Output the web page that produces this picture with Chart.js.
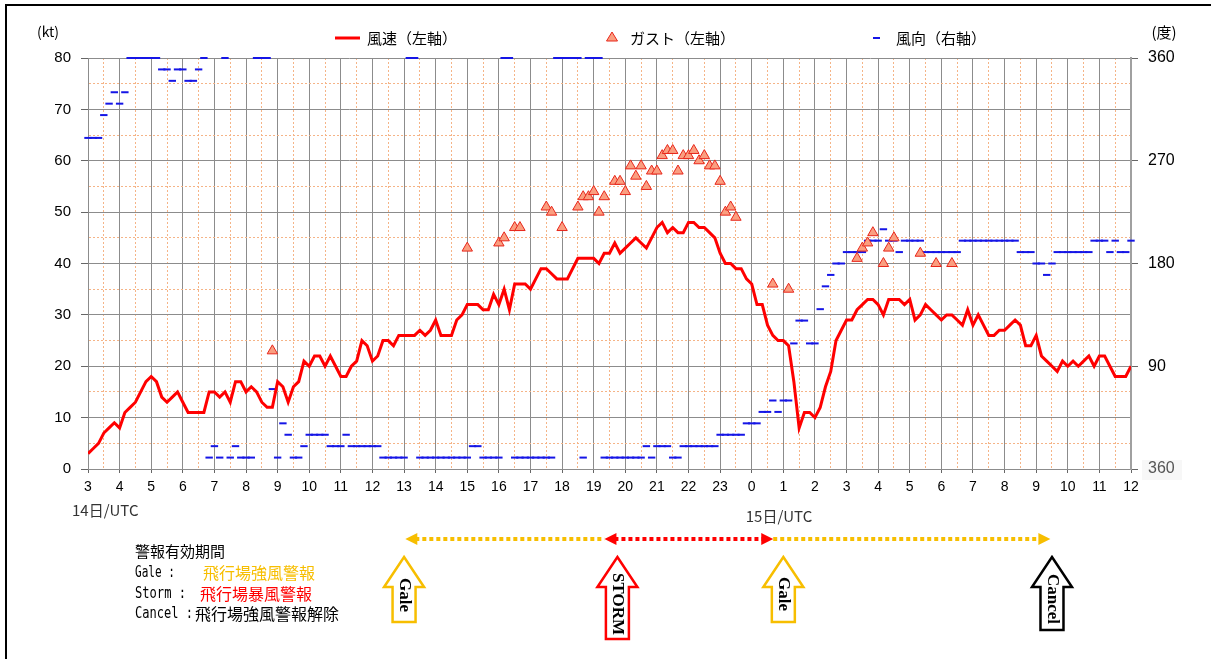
<!DOCTYPE html>
<html><head><meta charset="utf-8">
<script src="https://cdn.jsdelivr.net/npm/chart.js@4/dist/chart.umd.min.js"></script>
<style>html,body{margin:0;padding:0;background:#fff;}#wrap{width:1211px;height:659px;position:relative;}</style>
</head><body><div id="wrap"><canvas id="c" width="1211" height="659"></canvas></div>
<script>
const N = null;
// hour tick labels (14日03UTC .. 15日12UTC)
const xTickLabels = ['3','4','5','6','7','8','9','10','11','12','13','14','15','16','17','18','19','20','21','22','23','0','1','2','3','4','5','6','7','8','9','10','11','12'];
const yTickValues = [0,5,10,15,20,25,30,35,40,45,50,55,60,65,70,75,80];
const y2TickValues = [0,90,180,270,360];
const y2TickLabels = ['360','90','180','270','360'];

// 10-minute wind speed (kt), 14日03:00 .. 15日12:00
const speed = [
 3,4,5,7,8,9,        8,11,12,13,15,17,   18,17,14,13,14,15,   13,11,11,11,11,15,
 15,14,15,13,17,17,  15,16,15,13,12,12,  17,16,13,16,17,21,   20,22,22,20,22,20,
 18,18,20,21,25,24,  21,22,25,25,24,26,  26,26,26,27,26,27,   29,26,26,26,29,30,
 32,32,32,31,31,34,  32,35,31,36,36,36,  35,37,39,39,38,37,   37,37,39,41,41,41,
 41,40,42,42,44,42,  43,44,45,44,43,45,  47,48,46,47,46,46,   48,48,47,47,46,45,
 42,40,40,39,39,37,  36,32,32,28,26,25,  25,24,17,8,11,11,    10,12,16,19,25,27,
 29,29,31,32,33,33,  32,30,33,33,33,32,  33,29,30,32,31,30,   29,30,30,29,28,31,
 28,30,28,26,26,27,  27,28,29,28,24,24,  26,22,21,20,19,21,   20,21,20,21,22,20,
 22,22,20,18,18,18,  20
];
// gusts (kt), same 10-minute slots
const gust = [
 N,N,N,N,N,N, N,N,N,N,N,N, N,N,N,N,N,N, N,N,N,N,N,N,
 N,N,N,N,N,N, N,N,N,N,N,23, N,N,N,N,N,N, N,N,N,N,N,N,
 N,N,N,N,N,N, N,N,N,N,N,N, N,N,N,N,N,N, N,N,N,N,N,N,
 43,N,N,N,N,N, 44,45,N,47,47,N, N,N,N,51,50,N, 47,N,N,51,53,53,
 54,50,53,N,56,56, 54,59,57,59,55,58, 58,61,62,62,58,61, 61,62,60,61,59,59,
 56,50,51,49,N,N, N,N,N,N,36,N, N,35,N,N,N,N, N,N,N,N,N,N,
 N,N,41,43,44,46, N,40,43,45,N,N, N,N,42,N,N,40, N,N,40,N,N,N,
 N,N,N,N,N,N, N,N,N,N,N,N, N,N,N,N,N,N, N,N,N,N,N,N,
 N,N,N,N,N,N, N
];
// wind direction (deg), same 10-minute slots
const direction = [
 290,290,290,310,320,330, 320,330,360,360,360,360, 360,360,350,350,340,350, 350,340,340,350,360,10,
 20,10,360,10,20,10,      10,10,360,360,360,70,    10,40,30,10,10,20,       30,30,30,30,20,20,
 20,30,20,20,20,20,       20,20,10,10,10,10,       10,360,360,10,10,10,     10,10,10,10,10,10,
 10,20,20,10,10,10,       10,360,360,10,10,10,     10,10,10,10,10,360,      360,360,360,360,10,360,
 360,360,10,10,10,10,     10,10,10,10,20,10,       20,20,20,10,10,20,       20,20,20,20,20,20,
 30,30,30,30,30,40,       40,40,50,50,60,50,       60,60,110,130,130,110,   110,140,160,170,180,180,
 190,190,190,190,200,200, 200,210,200,200,190,200, 200,200,200,190,190,190, 190,190,190,190,200,200,
 200,200,200,200,200,200, 200,200,200,190,190,190, 180,180,170,180,190,190, 190,190,190,190,190,200,
 200,200,190,200,190,190, 200
];
// warning periods (hours after 14日03UTC)
const warnArrowHours = [10.0, 16.75, 22.0, 30.5];
const warnArrowNames = ['Gale','STORM','Gale','Cancel'];
const warnArrowColors = ['#F7BE00','#FF0000','#F7BE00','#000000'];
const warnPeriodFrom = [10.04, 16.34, 21.68];
const warnPeriodTo = [16.34, 21.68, 30.45];
const warnPeriodColors = ['#F7BE00','#FF0000','#F7BE00'];

const STEP = 1/6;
const toXY = arr => arr.map((v,i)=> v==null?null:{x:i*STEP,y:v}).filter(p=>p);

const YELLOW='#F7BE00';
const deco = {
  id:'deco',
  beforeDraw(chart){
    const c = chart.ctx;
    c.save(); c.fillStyle='#f7f7f7'; c.fillRect(1142,460,40,20); c.restore();
  },
  afterDraw(chart){
    const c = chart.ctx, xs = chart.scales.x;
    c.save();
    // frame
    c.strokeStyle='#000'; c.lineWidth=2;
    c.beginPath(); c.moveTo(6,659); c.lineTo(6,5); c.lineTo(1211,5); c.stroke();
    // units
    c.fillStyle='#000'; c.textBaseline='middle'; c.textAlign='center';
    c.font='14px "Noto Sans CJK JP"';
    c.fillText('(kt)',48,32);
    c.font='15px "Noto Sans CJK JP"';
    c.fillText('(度)',1164,32);
    // legend
    c.textAlign='left';
    c.font='15px "Noto Sans CJK JP"';
    c.strokeStyle='#FF0000'; c.lineWidth=3;
    c.beginPath(); c.moveTo(335,38); c.lineTo(360,38); c.stroke();
    c.fillStyle='#000'; c.fillText('風速（左軸）',367,38);
    c.beginPath(); c.moveTo(612,32); c.lineTo(617.5,41); c.lineTo(606.5,41); c.closePath();
    c.fillStyle='#FA9E80'; c.fill(); c.strokeStyle='#E8261A'; c.lineWidth=1; c.stroke();
    c.fillStyle='#000'; c.fillText('ガスト（左軸）',630,38);
    c.strokeStyle='#1515E6'; c.lineWidth=2;
    c.beginPath(); c.moveTo(873,38); c.lineTo(880,38); c.stroke();
    c.fillText('風向（右軸）',896,38);
    // day labels
    c.font='15px "Noto Sans CJK JP"'; c.fillStyle='#333';
    c.fillText('14日/UTC', xs.getPixelForValue(0)-16, 510);
    c.fillText('15日/UTC', xs.getPixelForValue(21)-6, 516);
    // explanation
    c.fillStyle='#000';
    c.font='15px "Noto Sans CJK JP"';
    c.fillText('警報有効期間',135,551);
    c.font='16px "DejaVu Sans Mono"';
    c.fillText('Gale :',135,573,40);
    c.fillText('Storm :',135,594,51);
    c.fillText('Cancel :',135,614,58);
    c.font='16px "Noto Sans CJK JP"';
    c.fillStyle=YELLOW; c.fillText('飛行場強風警報',203,573,115);
    c.fillStyle='#FF0000'; c.fillText('飛行場暴風警報',200,594,118);
    c.fillStyle='#000'; c.fillText('飛行場強風警報解除',195,614,157);
    // period dotted arrows
    const py=539;
    for(let i=0;i<warnPeriodFrom.length;i++){
      const x1=xs.getPixelForValue(warnPeriodFrom[i]), x2=xs.getPixelForValue(warnPeriodTo[i]);
      const col=warnPeriodColors[i];
      const headL = (i<=1), headR = (i>=1);
      c.strokeStyle=col; c.fillStyle=col; c.lineWidth=4; c.setLineDash([4,3]);
      c.beginPath(); c.moveTo(x1+(headL?10:0),py); c.lineTo(x2-(headR?10:0),py); c.stroke();
      c.setLineDash([]);
      if(headL){ c.beginPath(); c.moveTo(x1,py); c.lineTo(x1+12,py-6); c.lineTo(x1+12,py+6); c.closePath(); c.fill(); }
      if(headR){ c.beginPath(); c.moveTo(x2,py); c.lineTo(x2-12,py-6); c.lineTo(x2-12,py+6); c.closePath(); c.fill(); }
    }
    // block arrows
    const bottoms=[622,639,622,630], centers=[595,604,594,599];
    for(let i=0;i<warnArrowHours.length;i++){
      const cx=xs.getPixelForValue(warnArrowHours[i]);
      const tip=557, base=587, bot=bottoms[i], hw=20, sw=11.5;
      c.beginPath();
      c.moveTo(cx,tip); c.lineTo(cx+hw,base); c.lineTo(cx+sw,base); c.lineTo(cx+sw,bot);
      c.lineTo(cx-sw,bot); c.lineTo(cx-sw,base); c.lineTo(cx-hw,base); c.closePath();
      c.fillStyle='#fff'; c.fill();
      c.strokeStyle=warnArrowColors[i]; c.lineWidth=2.5; c.lineJoin='miter'; c.stroke();
      c.save(); c.translate(cx,centers[i]); c.rotate(Math.PI/2);
      c.fillStyle='#000'; c.textAlign='center'; c.textBaseline='middle';
      c.font='bold 17px "Liberation Serif"';
      c.fillText(warnArrowNames[i],0,0);
      c.restore();
    }
    c.restore();
  }
};

const GRIDGRAY='#8c8c8c', GRIDORANGE='#F5B487';
new Chart(document.getElementById('c'), {
  data:{datasets:[
    {type:'scatter', label:'風向（右軸）', data:toXY(direction), yAxisID:'y2', pointStyle:'line', pointRadius:3.7, pointHoverRadius:3.7, borderColor:'#1515E6', borderWidth:2, clip:false, order:3},
    {type:'line', label:'風速（左軸）', data:toXY(speed), yAxisID:'y', borderColor:'#FF0000', borderWidth:3, pointRadius:0, tension:0, order:2},
    {type:'scatter', label:'ガスト（左軸）', data:toXY(gust), yAxisID:'y', pointStyle:'triangle', pointRadius:6, pointHoverRadius:6, backgroundColor:'#FA9E80', borderColor:'#E8261A', borderWidth:1, clip:false, order:1}
  ]},
  options:{
    responsive:false, animation:false, events:[],
    layout:{padding:{top:58,bottom:160,left:0,right:0}},
    plugins:{legend:{display:false}, tooltip:{enabled:false}},
    scales:{
      x:{type:'linear', min:0, max:33,
        afterBuildTicks:s=>{ const t=[]; for(let k=0;k<=66;k++) t.push({value:k/2}); s.ticks=t; },
        ticks:{autoSkip:false, maxRotation:0, padding:6, color:'#000', font:{size:14, family:'"Liberation Sans", Arial'},
          callback:v=> Number.isInteger(v)? xTickLabels[v] : ''},
        grid:{color:c=> (c.tick && c.tick.value%1!==0)? GRIDORANGE: GRIDGRAY, lineWidth:1, tickLength:4,
          tickColor:c=> (c.tick && c.tick.value%1!==0)? 'rgba(0,0,0,0)':'#666'},
        border:{color:GRIDGRAY, dash:c=> (c.tick && c.tick.value%1!==0)? [2,2]: []},
        afterFit:s=>{ s.height=30; }
      },
      y:{type:'linear', position:'left', min:0, max:80,
        afterBuildTicks:s=>{ s.ticks=yTickValues.map(v=>({value:v})); },
        ticks:{autoSkip:false, padding:10, color:'#000', font:{size:15, family:'"Liberation Sans", Arial'},
          callback:v=> v%10===0? String(v): ''},
        grid:{color:c=> (c.tick && c.tick.value%10!==0)? GRIDORANGE: GRIDGRAY, lineWidth:1, tickLength:7,
          tickColor:c=> (c.tick && c.tick.value%10!==0)? 'rgba(0,0,0,0)':'#666'},
        border:{color:GRIDGRAY, dash:c=> (c.tick && c.tick.value%10!==0)? [2,2]: []},
        afterFit:s=>{ s.width=88; }
      },
      y2:{type:'linear', position:'right', min:0, max:360,
        afterBuildTicks:s=>{ s.ticks=y2TickValues.map(v=>({value:v})); },
        ticks:{autoSkip:false, padding:10, font:{size:16, family:'"Liberation Sans", Arial'},
          color:c=> c.index===0? '#555':'#000',
          callback:(v,i)=> y2TickLabels[i]},
        grid:{drawOnChartArea:false, tickLength:7, color:'#666'},
        border:{color:'#a0a0a0', width:2},
        afterFit:s=>{ s.width=80; }
      }
    }
  },
  plugins:[deco]
});
</script></body></html>
